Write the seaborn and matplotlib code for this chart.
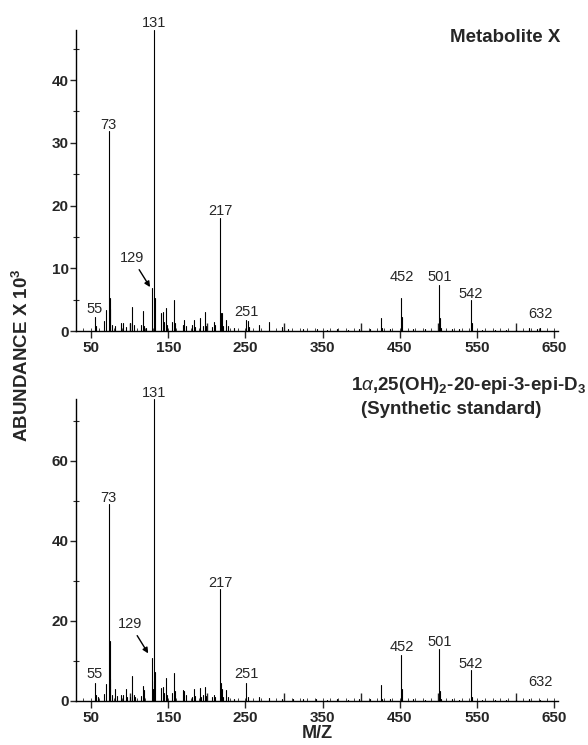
import pandas as pd
import matplotlib
matplotlib.use("Agg")
import matplotlib.pyplot as plt
from matplotlib.ticker import MultipleLocator, FixedLocator, NullFormatter
import seaborn as sns

# ---- data (m/z, abundance x 10^3) ----
top_mz = [55, 57, 67, 69, 73, 74, 75, 77, 81, 89, 91, 95, 101, 103, 105, 115, 117, 119,
          121, 129, 131, 133, 141, 143, 145, 147, 149, 155, 157, 159, 169, 171, 173,
          181, 183, 185, 191, 195, 197, 199, 207, 209, 211, 217, 218, 219, 221, 225,
          227, 235, 251, 253, 255, 267, 281, 297, 305, 325, 343, 355, 369, 383, 397,
          411, 425, 427, 437, 452, 453, 467, 483, 501, 502, 503, 517, 527, 542, 543,
          557, 573, 587, 601, 617, 627, 632]
top_ab = [2.3, 0.8, 1.6, 3.3, 31.8, 3.5, 5.2, 1.0, 0.8, 1.3, 1.2, 0.7, 1.2, 3.8, 1.0, 1.0, 3.2, 0.8,
          0.5, 6.8, 48.0, 5.3, 2.9, 3.1, 1.5, 3.6, 1.0, 1.5, 5.0, 1.2, 1.0, 1.8, 0.8,
          0.9, 1.8, 0.6, 2.0, 0.8, 3.1, 0.8, 0.6, 1.5, 1.0, 18.0, 2.9, 2.8, 0.8, 1.8,
          0.8, 0.5, 1.8, 1.6, 0.6, 0.9, 1.4, 0.6, 0.3, 0.3, 0.3, 0.2, 0.3, 0.2, 0.3,
          0.3, 2.0, 0.4, 0.3, 5.3, 2.3, 0.3, 0.3, 7.3, 2.0, 0.5, 0.3, 0.3, 4.9, 1.2,
          0.2, 0.2, 0.2, 0.2, 0.4, 0.3, 0.4]

bot_mz = [55, 57, 59, 67, 69, 73, 74, 75, 77, 81, 83, 89, 91, 95, 97, 101, 103, 105,
          107, 115, 117, 118, 119, 129, 130, 131, 132, 133, 141, 143, 145, 147, 149,
          155, 157, 159, 169, 171, 173, 181, 183, 185, 191, 193, 195, 197, 199, 207,
          209, 211, 217, 218, 219, 221, 225, 227, 235, 251, 253, 267, 281, 297, 311,
          325, 341, 355, 369, 383, 397, 411, 425, 427, 437, 452, 453, 467, 483, 501,
          502, 503, 517, 527, 542, 543, 557, 573, 587, 601, 617, 632]
bot_ab = [4.6, 1.5, 1.0, 1.8, 4.2, 49.2, 5.4, 15.0, 1.5, 2.9, 1.2, 1.5, 1.5, 2.9, 1.0, 1.0, 6.2, 1.5,
          1.0, 1.2, 3.7, 2.7, 1.0, 10.8, 3.0, 75.5, 5.0, 7.2, 3.3, 3.5, 2.0, 5.8, 1.5,
          2.0, 7.1, 2.5, 2.7, 2.5, 1.5, 1.0, 2.9, 1.2, 3.2, 1.0, 1.5, 3.5, 1.2, 1.0,
          1.5, 1.0, 28.0, 4.6, 3.0, 1.0, 2.7, 1.0, 0.6, 4.6, 1.0, 1.0, 0.8, 0.6, 0.4,
          0.4, 0.4, 0.3, 0.4, 0.3, 0.4, 0.4, 3.9, 0.5, 0.4, 11.5, 2.9, 0.4, 0.3, 13.0,
          2.5, 0.6, 0.4, 0.3, 7.7, 1.0, 0.3, 0.3, 0.3, 0.3, 0.4, 0.3]

# labelled peaks
label_mz = [55, 73, 131, 217, 251, 452, 501, 542, 632]
# baseline of each label (data units)
top_label_y = [2.9, 32.2, 48.4, 18.5, 2.4, 8.0, 8.0, 5.3, 2.1]
bot_label_y = [5.75, 49.8, 76.0, 28.6, 5.75, 12.5, 13.75, 8.3, 3.75]

title_top = "Metabolite X"
title_bot = [r"1$\alpha$,25(OH)$_\mathbf{2}$-20-epi-3-epi-D$_\mathbf{3}$", "(Synthetic standard)"]


def sticks(mz, ab):
    # each peak drawn as its own unit from 0 up to its abundance
    rows = []
    for i, (m, a) in enumerate(zip(mz, ab)):
        rows.append((i, m, 0.0))
        rows.append((i, m, a))
    return pd.DataFrame(rows, columns=["peak", "mz", "abund"])


sns.set_style("ticks")
plt.rcParams["font.family"] = ["Liberation Sans", "DejaVu Sans"]
plt.rcParams["mathtext.fontset"] = "custom"
plt.rcParams["mathtext.rm"] = "Liberation Sans"
plt.rcParams["mathtext.it"] = "Liberation Sans:italic"
plt.rcParams["mathtext.bf"] = "Liberation Sans:bold"

fig = plt.figure(figsize=(5.88, 7.45), dpi=100)
ax1 = fig.add_axes([0.1286, 0.5557, 0.8206, 0.4043])
ax2 = fig.add_axes([0.1286, 0.0591, 0.8206, 0.4054])


def style_axis(ax, ymax, ymajor):
    ax.set_xlim(30, 655)
    ax.set_ylim(0, ymax)
    sns.despine(ax=ax)
    for s in ["left", "bottom"]:
        ax.spines[s].set_linewidth(1.0)
        ax.spines[s].set_color("black")
    ax.xaxis.set_major_locator(FixedLocator([50, 150, 250, 350, 450, 550, 650]))
    ax.xaxis.set_minor_locator(MultipleLocator(50))
    ax.yaxis.set_major_locator(MultipleLocator(ymajor))
    ax.yaxis.set_minor_locator(MultipleLocator(ymajor / 2))
    ax.tick_params(axis="x", which="major", direction="out", length=5, width=1,
                   labelsize=11, pad=2)
    ax.tick_params(axis="x", which="minor", direction="in", length=6, width=1)
    ax.tick_params(axis="y", which="major", direction="out", length=4, width=1,
                   labelsize=11, pad=1)
    ax.tick_params(axis="y", which="minor", direction="inout", length=4, width=0.8)
    for lab in ax.get_xticklabels() + ax.get_yticklabels():
        lab.set_fontweight("bold")
    # fine 10-unit marks along the baseline
    sec = ax.secondary_xaxis("bottom")
    sec.spines["bottom"].set_visible(False)
    sec.xaxis.set_major_locator(MultipleLocator(10))
    sec.xaxis.set_major_formatter(NullFormatter())
    sec.tick_params(axis="x", direction="in", length=2, width=0.6)
    ax.set_xlabel("")
    ax.set_ylabel("")
    ax.patch.set_alpha(0)


for ax, mz, ab, ymax, ymaj, ly in [(ax1, top_mz, top_ab, 48, 10, top_label_y),
                                   (ax2, bot_mz, bot_ab, 75.5, 20, bot_label_y)]:
    sns.lineplot(data=sticks(mz, ab), x="mz", y="abund", units="peak",
                 estimator=None, color="black", lw=0.8, ax=ax, legend=False)
    style_axis(ax, ymax, ymaj)
    for m, y in zip(label_mz, ly):
        ax.text(m, y, str(m), ha="center", va="baseline", fontsize=10.5, clip_on=False)

# 129 labels with arrows
ax1.annotate("129", xy=(126.4, 7.0), xytext=(103, 11.6), ha="center", va="center",
             fontsize=10.5, arrowprops=dict(arrowstyle="-|>", color="black", lw=1,
                                            mutation_scale=8, shrinkA=1, shrinkB=0))
ax2.annotate("129", xy=(124, 11.9), xytext=(100.5, 19.2), ha="center", va="center",
             fontsize=10.5, arrowprops=dict(arrowstyle="-|>", color="black", lw=1,
                                            mutation_scale=8, shrinkA=1, shrinkB=0))

fig.text(560 / 588, 1 - 37 / 745, title_top, ha="right", va="center",
         fontsize=13.5, fontweight="bold")
fig.text(586 / 588, 1 - 386 / 745, title_bot[0], ha="right", va="center",
         fontsize=13.5, fontweight="bold")
fig.text(451 / 588, 1 - 410 / 745, title_bot[1], ha="center", va="center",
         fontsize=13.5, fontweight="bold")

ax2.set_xlabel("M/Z", fontsize=13, fontweight="bold", labelpad=0)
fig.text(22 / 588, 1 - 355 / 745, r"ABUNDANCE X 10$^\mathbf{3}$", rotation=90,
         ha="center", va="center", fontsize=13.5, fontweight="bold")

fig.savefig("out.png", dpi=100)
